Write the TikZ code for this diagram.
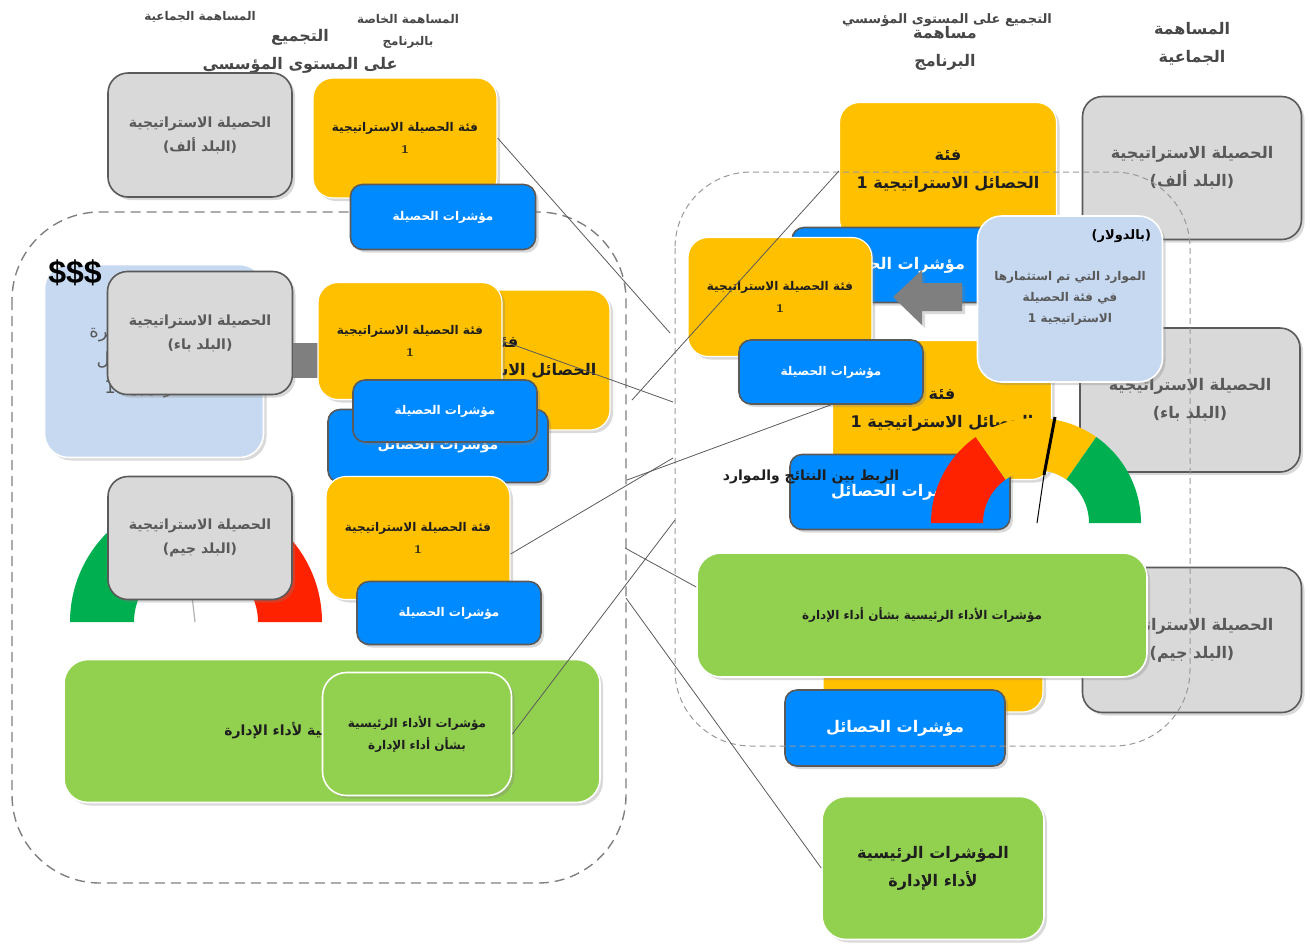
\documentclass[tikz,border=0pt]{standalone}
\usepackage{fontspec}
\usetikzlibrary{shadows}
\TeXXeTstate=1
\newfontfamily\arabicfont[Script=Arabic]{DejaVu Sans}
\newfontfamily\latinfont{Liberation Sans}
\newcommand{\ar}[1]{{\arabicfont\beginR#1\endR}}
\newcommand{\fsa}{\fontsize{6}{11}\selectfont}
\newcommand{\fsb}{\fontsize{7}{12}\selectfont}
\newcommand{\fsc}{\fontsize{8}{14}\selectfont}

\definecolor{outyellow}{RGB}{255,192,0}
\definecolor{indblue}{RGB}{0,138,255}
\definecolor{ctrygray}{RGB}{217,217,217}
\definecolor{resblue}{RGB}{198,217,241}
\definecolor{kpigreen}{RGB}{146,208,80}
\definecolor{gaugered}{RGB}{255,34,0}
\definecolor{gaugegreen}{RGB}{0,176,80}
\definecolor{edgegray}{RGB}{90,90,90}
\definecolor{graytext}{RGB}{89,89,89}
\definecolor{darktext}{RGB}{30,30,30}
\definecolor{arrowgray}{RGB}{127,127,127}

\tikzset{
  wh/.style 2 args={minimum width=#1*0.5pt, minimum height=#2*0.5pt},
  boxshadow/.style={drop shadow={opacity=0.3, shadow xshift=1.5pt, shadow yshift=-1.5pt}},
  ctrybox/.style={draw=edgegray, line width=0.8pt, fill=ctrygray, rounded corners=10pt, boxshadow, text=graytext, font=\fsb\bfseries, align=center},
  outbox/.style={draw=white, line width=0.6pt, fill=outyellow, rounded corners=10pt, boxshadow, text=darktext, font=\fsa\bfseries, align=center},
  indbox/.style={draw=edgegray, line width=0.8pt, fill=indblue, rounded corners=6pt, boxshadow, text=white, font=\fsa\bfseries, align=center},
  resbox/.style={draw=white, line width=0.8pt, fill=resblue, rounded corners=12pt, boxshadow},
  kpibox/.style={draw=white, line width=0.8pt, fill=kpigreen, rounded corners=12pt, boxshadow, text=darktext, font=\fsa\bfseries, align=center},
  hdrtext/.style={text=graytext!80!black, font=\fsa\bfseries, align=center},
  dashframe/.style={draw=gray, line width=0.7pt, dash pattern=on 5pt off 3pt, rounded corners=44pt},
  link/.style={draw=edgegray, line width=0.4pt},
}

\begin{document}
\begin{tikzpicture}[x=0.5pt, y=-0.5pt, line join=round]
\useasboundingbox (0,0) rectangle (1310,944);

% left part: institutional aggregation
\node[hdrtext] (hdrLcol) at (200,17) {\ar{المساهمة الجماعية}};
\node[hdrtext] (hdrLprog) at (408,31) {\ar{المساهمة الخاصة}\\\ar{بالبرنامج}};
\node[hdrtext, font=\fsc\bfseries] (hdrLinst) at (300,51) {\ar{التجميع}\\\ar{على المستوى المؤسسي}};

\draw[dashframe] (12,212) rectangle (626,883);

\node[ctrybox, wh={184}{124}] (ctryA) at (200,135) {\ar{الحصيلة الاستراتيجية}\\\ar{(البلد ألف)}};
\node[outbox, wh={184}{120}] (outL1) at (405,138) {\ar{فئة الحصيلة الاستراتيجية}\\1};
\node[indbox, wh={185}{65}] (indL1) at (443,217) {\ar{مؤشرات الحصيلة}};

\node[resbox, wh={219}{193}] (resL) at (154,361) {};
\node[text=graytext, font=\fontsize{9}{14}\selectfont, align=center] (resLtext) at (157,361) {\ar{الموارد المستثمرة}\\\ar{في فئة الحصائل}\\\ar{الاستراتيجية 1}};
\node[font=\latinfont\bfseries\fontsize{16}{18}\selectfont] (dollars) at (75,273) {\$\$\$};
\node[ctrybox, wh={185}{123}] (ctryB) at (200,333) {\ar{الحصيلة الاستراتيجية}\\\ar{(البلد باء)}};
\fill[arrowgray] (293,343) rectangle (318,378);

\node[outbox, wh={180}{140}] (outL2b) at (520,360) {};
\node[text=darktext, font=\fsc\bfseries, align=center] (outL2btext) at (505,358) {\ar{فئة}\\\ar{الحصائل الاستراتيجية 1}};
\node[indbox, wh={220}{73}, font=\fsb\bfseries] (indL2b) at (438,446) {\ar{مؤشرات الحصائل}};
\node[outbox, wh={184}{117}] (outL2) at (410,341) {\ar{فئة الحصيلة الاستراتيجية}\\1};
\node[indbox, wh={184}{62}] (indL2) at (445,411) {\ar{مؤشرات الحصيلة}};

% left gauge
\fill[gaugegreen] (196,622) ++(180:126) arc[start angle=180, end angle=225, radius=126] -- ++(225:-64) arc[start angle=225, end angle=180, radius=62] -- cycle;
\fill[gaugered] (196,622) ++(315:126) arc[start angle=315, end angle=360, radius=126] -- ++(360:-64) arc[start angle=360, end angle=315, radius=62] -- cycle;
\draw[gray!60, line width=0.6pt] (192,596) -- (195,622);

\node[ctrybox, wh={184}{123}] (ctryC) at (200,538) {\ar{الحصيلة الاستراتيجية}\\\ar{(البلد جيم)}};
\node[outbox, wh={184}{123}] (outL3) at (418,538) {\ar{فئة الحصيلة الاستراتيجية}\\1};
\node[indbox, wh={184}{63}] (indL3) at (449,613) {\ar{مؤشرات الحصيلة}};

\node[kpibox, wh={536}{143}, font=\fsb\bfseries] (kpiL) at (332,731) {\ar{المؤشرات الرئيسية لأداء الإدارة}};
\node[kpibox, wh={189}{123}] (kpiLs) at (417,734) {\ar{مؤشرات الأداء الرئيسية}\\\ar{بشأن أداء الإدارة}};

% right part: programme contribution
\node[hdrtext, font=\fontsize{6.5}{12}\selectfont\bfseries] (hdrRinst) at (947,20) {\ar{التجميع على المستوى المؤسسي}};
\node[hdrtext, font=\fsc\bfseries] (hdrRprog) at (945,48) {\ar{مساهمة}\\\ar{البرنامج}};
\node[hdrtext, font=\fsc\bfseries] (hdrRcol) at (1192,44) {\ar{المساهمة}\\\ar{الجماعية}};

\node[ctrybox, wh={219}{143}, font=\fsc\bfseries] (ctryRA) at (1192,168) {\ar{الحصيلة الاستراتيجية}\\\ar{(البلد ألف)}};
\node[outbox, wh={217}{137}, font=\fsc\bfseries] (outR1) at (948,171) {\ar{فئة}\\\ar{الحصائل الاستراتيجية 1}};
\node[indbox, wh={208}{75}, font=\fsc\bfseries] (indR1) at (896,265) {\ar{مؤشرات الحصائل}};
\fill[arrowgray, boxshadow] (893,297) -- (922,270) -- (922,283) -- (962,283) -- (962,311) -- (922,311) -- (922,325) -- cycle;
\node[outbox, wh={184}{119}] (outR2) at (780,297) {\ar{فئة الحصيلة الاستراتيجية}\\1};
\node[ctrybox, wh={220}{144}, font=\fsc\bfseries] (ctryRB) at (1190,400) {\ar{الحصيلة الاستراتيجية}\\\ar{(البلد باء)}};
\node[outbox, wh={219}{139}, font=\fsc\bfseries] (outR3) at (942,410) {\ar{فئة}\\\ar{الحصائل الاستراتيجية 1}};
\node[indbox, wh={184}{64}] (indR2) at (831,372) {\ar{مؤشرات الحصيلة}};
\node[resbox, wh={185}{166}] (resR) at (1070,299) {};
\node[font=\fontsize{6.5}{8}\selectfont\bfseries, anchor=north east] (resRunit) at (1158,223) {\ar{(بالدولار)}};
\node[text=graytext, font=\fontsize{6}{10.5}\selectfont\bfseries, align=center] (resRtext) at (1070,298) {\ar{الموارد التي تم استثمارها}\\\ar{في فئة الحصيلة}\\\ar{الاستراتيجية 1}};
\node[indbox, wh={220}{75}, font=\fsc\bfseries] (indR3) at (900,492) {\ar{مؤشرات الحصائل}};

% right gauge
\fill[gaugered] (1036,523) ++(180:105) arc[start angle=180, end angle=235, radius=105] -- ++(235:-52) arc[start angle=235, end angle=180, radius=53] -- cycle;
\fill[outyellow] (1036,523) ++(235:105) arc[start angle=235, end angle=305, radius=105] -- ++(305:-52) arc[start angle=305, end angle=235, radius=53] -- cycle;
\fill[gaugegreen] (1036,523) ++(305:105) arc[start angle=305, end angle=360, radius=105] -- ++(360:-52) arc[start angle=360, end angle=305, radius=53] -- cycle;
\draw[line width=1.5pt] (1055,417) -- (1044,475);
\draw[line width=0.5pt] (1044,475) -- (1037,523);

\node[text=darktext, font=\fsb\bfseries] (linkLabel) at (811,477) {\ar{الربط بين النتائج والموارد}};

\node[ctrybox, wh={219}{145}, font=\fsc\bfseries] (ctryRC) at (1192,640) {\ar{الحصيلة الاستراتيجية}\\\ar{(البلد جيم)}};
\node[outbox, wh={220}{112}] (outR4) at (933,656) {};
\node[kpibox, wh={450}{124}] (kpiR) at (922,615) {\ar{مؤشرات الأداء الرئيسية بشأن أداء الإدارة}};
\node[indbox, wh={220}{76}, font=\fsc\bfseries] (indR4) at (895,728) {\ar{مؤشرات الحصائل}};
\node[kpibox, wh={222}{143}, font=\fsc\bfseries] (kpiRb) at (933,868) {\ar{المؤشرات الرئيسية}\\\ar{لأداء الإدارة}};

\draw[dashframe, draw=gray!80, line width=0.5pt, dash pattern=on 3pt off 2pt, rounded corners=38pt] (675,172) rectangle (1190,746);

% connectors
\coordinate (jA) at (670,333);
\coordinate (jB) at (673,402);
\coordinate (jC) at (632,400);
\coordinate (jF) at (673,458);
\coordinate (jG) at (627,480);
\coordinate (jD) at (675,520);
\coordinate (jH) at (625,548);
\coordinate (jE) at (626,598);
\foreach \from/\to in {outL1.east/jA, outL2.east/jB, jC/outR1.west, jG/indR2.south, kpiLs.east/jD, jE/kpiRb.west}
  \draw[link] (\from) -- (\to);
\draw[link] ([yshift=-8pt]outL3.east) -- (jF);
\draw[link] (jH) -- ([yshift=14pt]kpiR.west);
\end{tikzpicture}
\end{document}
